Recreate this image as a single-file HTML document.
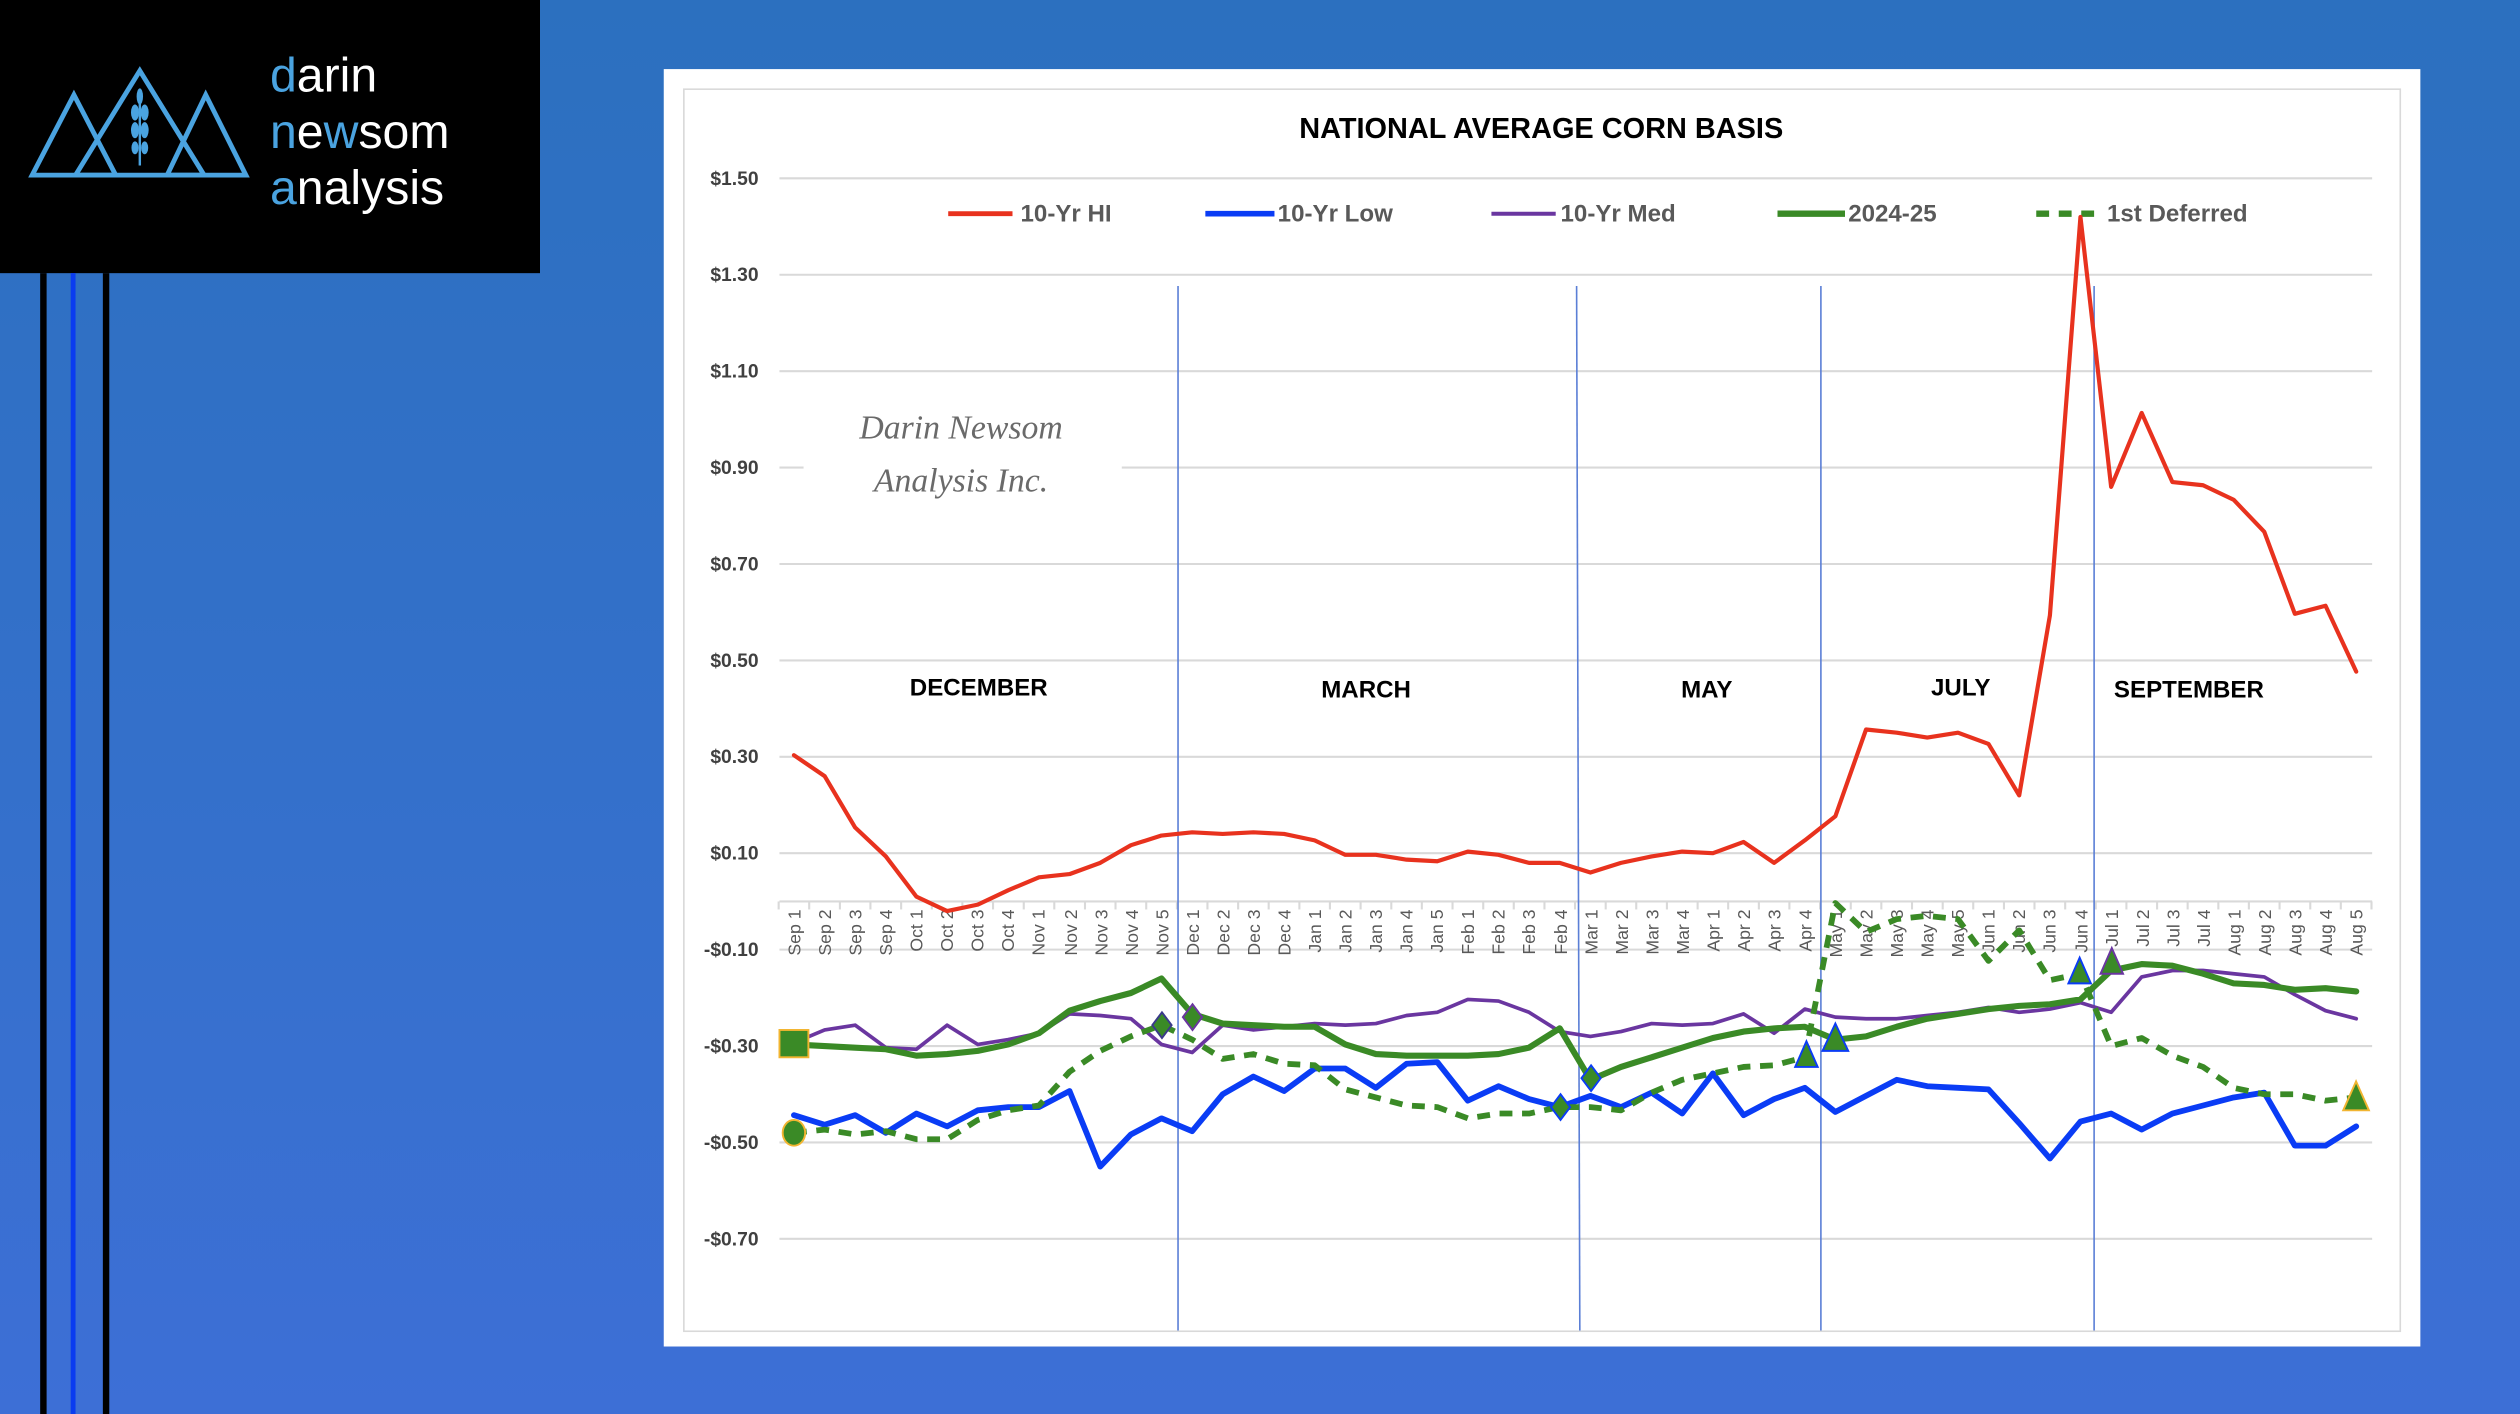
<!DOCTYPE html>
<html><head><meta charset="utf-8"><style>
html,body{margin:0;padding:0;}
body{width:2520px;height:1414px;overflow:hidden;background:linear-gradient(180deg,#2c70bf 0%,#3570cc 60%,#3d6fd6 100%);}
svg{display:block;font-family:"Liberation Sans",sans-serif;}
</style></head><body>
<svg width="2520" height="1414" viewBox="0 0 1568 880" preserveAspectRatio="none">
<rect x="0" y="0" width="336" height="170" fill="#000"/>
<g stroke="#4aa3e0" stroke-width="3" fill="none" stroke-linejoin="miter">
<polygon points="20,109 46,59 72,109"/>
<polygon points="47,109 87,44 127,109"/>
<polygon points="104,109 128,59 153,109"/>
<line x1="87" y1="58" x2="87" y2="103" stroke-width="1.5"/>
</g>
<g fill="#4aa3e0"><ellipse cx="84" cy="70" rx="2.5" ry="5"/><ellipse cx="90" cy="70" rx="2.5" ry="5"/><ellipse cx="84" cy="81" rx="2.5" ry="5"/><ellipse cx="90" cy="81" rx="2.5" ry="5"/><ellipse cx="84" cy="92" rx="2.2" ry="4"/><ellipse cx="90" cy="92" rx="2.2" ry="4"/><ellipse cx="87" cy="60" rx="2" ry="5"/></g>
<g font-size="30" fill="#fff"><text x="168" y="57"><tspan fill="#4aa3e0">d</tspan>arin</text><text x="168" y="92"><tspan fill="#4aa3e0">n</tspan>e<tspan fill="#4aa3e0">w</tspan>som</text><text x="168" y="127"><tspan fill="#4aa3e0">a</tspan>nalysis</text></g>
<rect x="25" y="170" width="4" height="710" fill="#000"/>
<rect x="44" y="170" width="3" height="710" fill="#0a3cf0"/>
<rect x="64" y="170" width="4" height="710" fill="#000"/>
<rect x="413" y="43" width="1093" height="795" fill="#fff"/>
<rect x="425.5" y="55.5" width="1068" height="773" fill="none" stroke="#d9d9d9" stroke-width="1"/>
<text x="959" y="86" text-anchor="middle" font-weight="bold" font-size="18" fill="#000">NATIONAL AVERAGE CORN BASIS</text>
<g stroke="#d9d9d9" stroke-width="1.3">
<line x1="485" y1="111" x2="1476" y2="111"/><line x1="485" y1="171" x2="1476" y2="171"/><line x1="485" y1="231" x2="1476" y2="231"/><line x1="485" y1="291" x2="1476" y2="291"/><line x1="485" y1="351" x2="1476" y2="351"/><line x1="485" y1="411" x2="1476" y2="411"/><line x1="485" y1="471" x2="1476" y2="471"/><line x1="485" y1="531" x2="1476" y2="531"/><line x1="485" y1="561" x2="1476" y2="561"/><line x1="485" y1="591" x2="1476" y2="591"/><line x1="485" y1="651" x2="1476" y2="651"/><line x1="485" y1="711" x2="1476" y2="711"/><line x1="485" y1="771" x2="1476" y2="771"/>
</g>
<g id="ticks" stroke="#d9d9d9" stroke-width="1.3"></g>
<g font-size="12" font-weight="bold" fill="#404040" text-anchor="end">
<text x="472" y="115">$1.50</text><text x="472" y="175">$1.30</text><text x="472" y="235">$1.10</text><text x="472" y="295">$0.90</text><text x="472" y="355">$0.70</text><text x="472" y="415">$0.50</text><text x="472" y="475">$0.30</text><text x="472" y="535">$0.10</text><text x="472" y="595">-$0.10</text><text x="472" y="655">-$0.30</text><text x="472" y="715">-$0.50</text><text x="472" y="775">-$0.70</text>
</g>
<rect x="500" y="240" width="198" height="80" fill="#fff"/>
<g font-family="'Liberation Serif',serif" font-style="italic" font-size="21" fill="#6a6a6a" text-anchor="middle"><text x="598" y="273">Darin Newsom</text><text x="598" y="306">Analysis Inc.</text></g>
<g stroke="#5b7fd6" stroke-width="1"><line x1="733" y1="178" x2="733" y2="828"/><line x1="981" y1="178" x2="983" y2="828"/><line x1="1133" y1="178" x2="1133" y2="828"/><line x1="1303" y1="178" x2="1303" y2="828"/></g>
<g font-size="15" font-weight="bold" fill="#000" text-anchor="middle"><text x="609" y="433">DECEMBER</text><text x="850" y="434">MARCH</text><text x="1062" y="434">MAY</text><text x="1220" y="433">JULY</text><text x="1362" y="434">SEPTEMBER</text></g>
<g font-size="15" font-weight="bold" fill="#595959">
<line x1="590" y1="133" x2="630" y2="133" stroke="#e8321e" stroke-width="3"/><text x="635" y="138">10-Yr HI</text>
<line x1="750" y1="133" x2="793" y2="133" stroke="#0a3cf5" stroke-width="3.5"/><text x="795" y="138">10-Yr Low</text>
<line x1="928" y1="133" x2="968" y2="133" stroke="#6a36a0" stroke-width="2.5"/><text x="971" y="138">10-Yr Med</text>
<line x1="1106" y1="133" x2="1148" y2="133" stroke="#3a8a26" stroke-width="4"/><text x="1150" y="138">2024-25</text>
<line x1="1267" y1="133" x2="1308" y2="133" stroke="#3a8a26" stroke-width="4" stroke-dasharray="8,6"/><text x="1311" y="138">1st Deferred</text>
</g>
<g font-size="11" fill="#595959" text-anchor="end">
<text transform="translate(498,566) rotate(-90)">Sep 1</text><text transform="translate(517,566) rotate(-90)">Sep 2</text><text transform="translate(536,566) rotate(-90)">Sep 3</text><text transform="translate(555,566) rotate(-90)">Sep 4</text><text transform="translate(574,566) rotate(-90)">Oct 1</text><text transform="translate(593,566) rotate(-90)">Oct 2</text><text transform="translate(612,566) rotate(-90)">Oct 3</text><text transform="translate(631,566) rotate(-90)">Oct 4</text><text transform="translate(650,566) rotate(-90)">Nov 1</text><text transform="translate(670,566) rotate(-90)">Nov 2</text><text transform="translate(689,566) rotate(-90)">Nov 3</text><text transform="translate(708,566) rotate(-90)">Nov 4</text><text transform="translate(727,566) rotate(-90)">Nov 5</text><text transform="translate(746,566) rotate(-90)">Dec 1</text><text transform="translate(765,566) rotate(-90)">Dec 2</text><text transform="translate(784,566) rotate(-90)">Dec 3</text><text transform="translate(803,566) rotate(-90)">Dec 4</text><text transform="translate(822,566) rotate(-90)">Jan 1</text><text transform="translate(841,566) rotate(-90)">Jan 2</text><text transform="translate(860,566) rotate(-90)">Jan 3</text><text transform="translate(879,566) rotate(-90)">Jan 4</text><text transform="translate(898,566) rotate(-90)">Jan 5</text><text transform="translate(917,566) rotate(-90)">Feb 1</text><text transform="translate(936,566) rotate(-90)">Feb 2</text><text transform="translate(955,566) rotate(-90)">Feb 3</text><text transform="translate(975,566) rotate(-90)">Feb 4</text><text transform="translate(994,566) rotate(-90)">Mar 1</text><text transform="translate(1013,566) rotate(-90)">Mar 2</text><text transform="translate(1032,566) rotate(-90)">Mar 3</text><text transform="translate(1051,566) rotate(-90)">Mar 4</text><text transform="translate(1070,566) rotate(-90)">Apr 1</text><text transform="translate(1089,566) rotate(-90)">Apr 2</text><text transform="translate(1108,566) rotate(-90)">Apr 3</text><text transform="translate(1127,566) rotate(-90)">Apr 4</text><text transform="translate(1146,566) rotate(-90)">May 1</text><text transform="translate(1165,566) rotate(-90)">May 2</text><text transform="translate(1184,566) rotate(-90)">May 3</text><text transform="translate(1203,566) rotate(-90)">May 4</text><text transform="translate(1222,566) rotate(-90)">May 5</text><text transform="translate(1241,566) rotate(-90)">Jun 1</text><text transform="translate(1260,566) rotate(-90)">Jun 2</text><text transform="translate(1279,566) rotate(-90)">Jun 3</text><text transform="translate(1299,566) rotate(-90)">Jun 4</text><text transform="translate(1318,566) rotate(-90)">Jul 1</text><text transform="translate(1337,566) rotate(-90)">Jul 2</text><text transform="translate(1356,566) rotate(-90)">Jul 3</text><text transform="translate(1375,566) rotate(-90)">Jul 4</text><text transform="translate(1394,566) rotate(-90)">Aug 1</text><text transform="translate(1413,566) rotate(-90)">Aug 2</text><text transform="translate(1432,566) rotate(-90)">Aug 3</text><text transform="translate(1451,566) rotate(-90)">Aug 4</text><text transform="translate(1470,566) rotate(-90)">Aug 5</text>
</g>
<g fill="none" stroke-linejoin="round" stroke-linecap="round">
<polyline id="red" stroke="#e8321e" stroke-width="2.6"/>
<polyline id="blue" stroke="#0a3cf5" stroke-width="3.6"/>
<polyline id="purple" stroke="#6a36a0" stroke-width="2.3"/>
<polyline id="green" stroke="#3a8a26" stroke-width="3.8"/>
<polyline id="dash" stroke="#3a8a26" stroke-width="3.6" stroke-dasharray="8,6" stroke-linecap="butt"/>
</g>
<g fill="#3a8a26" stroke-width="1.2">
<rect x="485" y="641" width="18" height="17" stroke="#f2b531"/>
<ellipse cx="494" cy="705" rx="7" ry="8" stroke="#f2b531"/>
<polygon points="723,630 729,638 723,646 717,638" stroke="#3a3a8a"/>
<polygon points="742,625 748,633 742,641 736,633" stroke="#6a36a0"/>
<polygon points="971,681 977,689 971,697 965,689" stroke="#0a3cf5"/>
<polygon points="990,663 996,671 990,679 984,671" stroke="#0a3cf5"/>
<polygon points="1124,648 1131,664 1117,664" stroke="#0a3cf5"/>
<polygon points="1142,637 1150,654 1134,654" stroke="#0a3cf5"/>
<polygon points="1294,596 1301,612 1287,612" stroke="#0a3cf5"/>
<polygon points="1314,590 1321,606 1307,606" stroke="#6a36a0"/>
<polygon points="1466,673 1474,691 1458,691" stroke="#f2b531"/>
</g>
</svg>
<script>
var X=function(i){return 494+i*19.06;};
var d={
red:[470,483,515,533,558,567,563,554,546,544,537,526,520,518,519,518,519,523,532,532,535,536,530,532,537,537,543,537,533,530,531,524,537,523,508,454,456,459,456,463,495,383,135,303,257,300,302,311,331,382,377,418],
blue:[694,700,694,705,693,701,691,689,689,679,726,706,696,704,681,670,679,665,665,677,662,661,685,676,684,689,682,689,680,693,668,694,684,677,692,682,672,676,677,678,699,721,698,693,703,693,688,683,680,713,713,701],
purple:[649,641,638,652,653,638,650,647,643,631,632,634,650,655,638,641,639,637,638,637,632,630,622,623,630,642,645,642,637,638,637,631,643,628,633,634,634,632,630,627,630,628,624,630,608,604,604,606,608,619,629,634],
green:[650,651,652,653,657,656,654,650,643,629,623,618,609,631,637,638,639,639,650,656,657,657,657,656,652,640,672,664,658,652,646,642,640,639,647,645,639,634,631,628,626,625,622,604,600,601,606,612,613,616,615,617],
dash:[705,703,706,704,709,709,697,691,688,667,654,645,638,647,659,656,662,663,678,683,688,689,696,693,693,689,689,691,680,672,668,664,663,658,562,580,572,570,572,598,579,610,606,651,646,657,664,677,681,681,685,683]};
for(var k in d){var p=d[k].map(function(v,i){return X(i).toFixed(1)+','+v;}).join(' ');document.getElementById(k).setAttribute('points',p);}
var t=document.getElementById('ticks'),s='';
for(var i=0;i<=52;i++){var x=(494-9.53+i*19.06).toFixed(1);s+='<line x1="'+x+'" y1="561" x2="'+x+'" y2="566"/>';}
t.innerHTML=s;
</script>
</body></html>
